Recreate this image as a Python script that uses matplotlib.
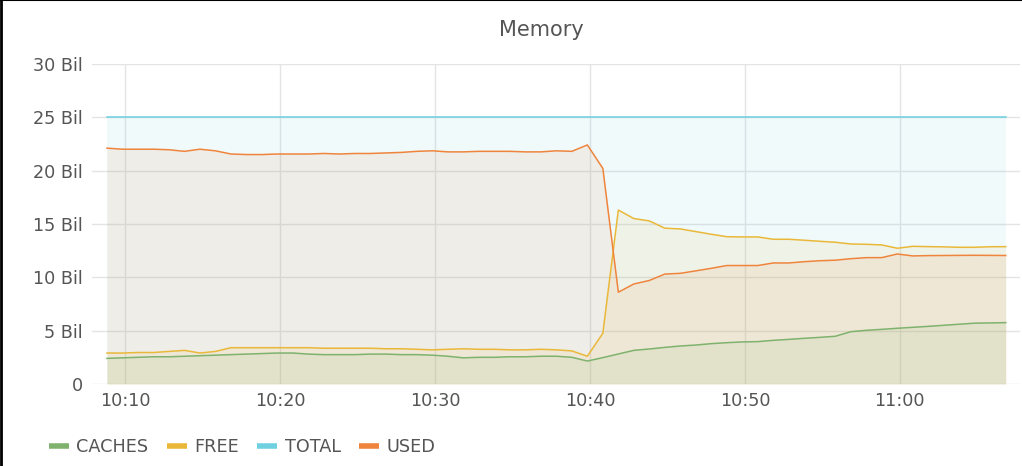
import numpy as np
import pandas as pd
import matplotlib
matplotlib.use('Agg')
import matplotlib.pyplot as plt
import matplotlib.dates as mdates
from matplotlib.lines import Line2D

plt.rcParams['font.family'] = ['DejaVu Sans']

# one sample per minute, 10:08:50 .. 11:06:50
times = pd.date_range('2024-01-01 10:08:50', periods=59, freq='min')

used = [22.1, 22.0, 22.0, 22.0, 21.95, 21.8, 22.0, 21.85, 21.55, 21.5,
        21.5, 21.55, 21.55, 21.55, 21.6, 21.55, 21.6, 21.6, 21.65, 21.7,
        21.8, 21.85, 21.75, 21.75, 21.8, 21.8, 21.8, 21.75, 21.75, 21.85,
        21.8, 22.4, 20.2, 8.6, 9.37, 9.7, 10.3, 10.37, 10.6, 10.84,
        11.1, 11.1, 11.1, 11.34, 11.34, 11.46, 11.55, 11.6, 11.74, 11.84,
        11.84, 12.18, 12.0, 12.03, 12.04, 12.05, 12.06, 12.05, 12.04]

free = [2.9, 2.9, 2.95, 2.95, 3.05, 3.15, 2.9, 3.05, 3.4, 3.4,
        3.4, 3.4, 3.4, 3.4, 3.35, 3.35, 3.35, 3.35, 3.3, 3.3,
        3.25, 3.2, 3.25, 3.3, 3.25, 3.25, 3.2, 3.2, 3.25, 3.2,
        3.1, 2.6, 4.75, 16.3, 15.5, 15.28, 14.6, 14.53, 14.28, 14.03,
        13.8, 13.78, 13.78, 13.56, 13.56, 13.47, 13.37, 13.28, 13.12, 13.09,
        13.03, 12.72, 12.9, 12.87, 12.85, 12.81, 12.81, 12.86, 12.87]

caches = [2.4, 2.45, 2.5, 2.55, 2.55, 2.6, 2.65, 2.7, 2.75, 2.8,
          2.85, 2.9, 2.9, 2.8, 2.75, 2.75, 2.75, 2.8, 2.8, 2.75,
          2.75, 2.7, 2.6, 2.45, 2.5, 2.5, 2.55, 2.55, 2.6, 2.6,
          2.5, 2.15, 2.47, 2.81, 3.15, 3.28, 3.43, 3.56, 3.65, 3.78,
          3.87, 3.94, 3.97, 4.09, 4.18, 4.28, 4.37, 4.47, 4.9, 5.03,
          5.12, 5.22, 5.31, 5.4, 5.5, 5.6, 5.7, 5.72, 5.75]

total = [25.0] * 59

series = [('CACHES', caches, '#7eb26d'),
          ('FREE', free, '#eab839'),
          ('TOTAL', total, '#6ed0e0'),
          ('USED', used, '#ef843c')]

fig = plt.figure(figsize=(10.22, 4.66), dpi=100)
ax = fig.add_axes([0.09, 0.176, 0.908, 0.687])

# fills first, biggest area at the back
for name in ['TOTAL', 'USED', 'FREE', 'CACHES']:
    vals, col = [(s[1], s[2]) for s in series if s[0] == name][0]
    ax.fill_between(times, vals, 0, color=col, alpha=0.1, lw=0)
for name, vals, col in series:
    ax.plot(times, vals, color=col, lw=1.1)

ax.set_ylim(0, 30)
ax.set_yticks([0, 5, 10, 15, 20, 25, 30])
ax.set_yticklabels(['0', '5 Bil', '10 Bil', '15 Bil', '20 Bil', '25 Bil', '30 Bil'])
ax.set_xlim(pd.Timestamp('2024-01-01 10:07:52'), pd.Timestamp('2024-01-01 11:07:45'))
ax.xaxis.set_major_locator(mdates.MinuteLocator(byminute=range(0, 60, 10)))
ax.xaxis.set_major_formatter(mdates.DateFormatter('%H:%M'))

ax.grid(True, color='#e4e4e4', lw=1)
ax.set_axisbelow(True)
for sp in ax.spines.values():
    sp.set_visible(False)
ax.tick_params(length=0, labelsize=12.7, colors='#555555')
ax.tick_params(axis='y', pad=6.5)
ax.tick_params(axis='x', pad=6)

fig.text(0.53, 0.935, 'Memory', ha='center', va='center', fontsize=15, color='#555555')

handles = [Line2D([], [], color=c, lw=4, solid_capstyle='butt') for _, _, c in series]
fig.legend(handles, [s[0] for s in series], loc='lower left', bbox_to_anchor=(0.032, -0.012),
           ncol=4, frameon=False, handlelength=1.15, handletextpad=0.4, columnspacing=1.05,
           labelcolor='#555555', fontsize=12.7)

# thin dark frame on top and left edges
fig.add_artist(Line2D([0, 1], [0.999, 0.999], transform=fig.transFigure, color='black', lw=1.5))
fig.add_artist(Line2D([0.001, 0.001], [0, 1], transform=fig.transFigure, color='black', lw=2))

fig.savefig('out.png', dpi=100)
